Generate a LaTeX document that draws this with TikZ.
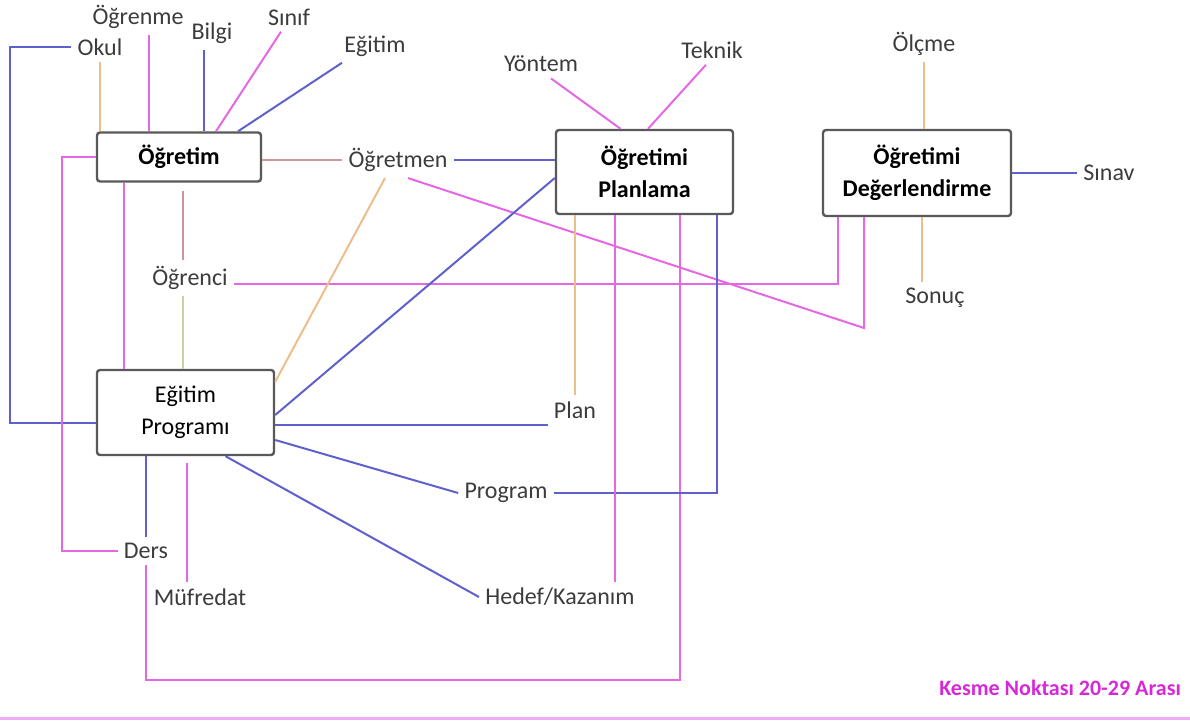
\documentclass[tikz,border=0pt]{standalone}
\usepackage{fontspec}
\setmainfont{Carlito}
\usepackage{tikz}
\usetikzlibrary{calc}
\definecolor{lnblue}{RGB}{96,96,204}
\definecolor{lnpink}{RGB}{228,104,228}
\definecolor{lntan}{RGB}{236,190,140}
\definecolor{lnrose}{RGB}{206,150,150}
\definecolor{lngreen}{RGB}{198,210,170}
\definecolor{txtgray}{RGB}{60,60,60}
\definecolor{kesmemag}{RGB}{214,40,214}
\tikzset{
  konu/.style={draw=black!65, line width=1.2pt, rounded corners=1.5pt, fill=white,
       align=center, font=\fontsize{12}{16}\selectfont, inner sep=2pt},
  kavram/.style={font=\fontsize{12}{14}\selectfont, text=txtgray, inner sep=3pt},
  mavi/.style={draw=lnblue, line width=1pt},
  pembe/.style={draw=lnpink, line width=1pt},
  ten/.style={draw=lntan, line width=1pt},
  gul/.style={draw=lnrose, line width=1pt},
  yesil/.style={draw=lngreen, line width=1pt}
}
\begin{document}
\begin{tikzpicture}[x=0.5pt, y=-0.5pt]
\useasboundingbox (0,0) rectangle (1190,722);

\node[konu, minimum width=82pt, minimum height=24.5pt] (ogretim) at (179,157) {\textbf{Öğretim}};
\node[konu, minimum width=88.5pt, minimum height=42.5pt] (ep) at (185.5,412.5) {Eğitim\\Programı};
\node[konu, minimum width=88.5pt, minimum height=42pt] (planlama) at (644.5,172) {\textbf{Öğretimi}\\\textbf{Planlama}};
\node[konu, minimum width=94pt, minimum height=43pt] (deg) at (917,173) {\textbf{Öğretimi}\\\textbf{Değerlendirme}};

\node[kavram] (okul) at (100,47) {Okul};
\node[kavram] (ogrenme) at (138,17) {Öğrenme};
\node[kavram] (bilgi) at (212,33) {Bilgi};
\node[kavram] (sinif) at (289,17) {Sınıf};
\node[kavram] (egitim) at (375,46) {Eğitim};
\node[kavram] (ogretmen) at (398,160) {Öğretmen};
\node[kavram] (ogrenci) at (190,278) {Öğrenci};
\node[kavram] (yontem) at (541,64) {Yöntem};
\node[kavram] (teknik) at (712,50) {Teknik};
\node[kavram] (olcme) at (924,44) {Ölçme};
\node[kavram] (sinav) at (1109,173) {Sınav};
\node[kavram] (sonuc) at (935,298) {Sonuç};
\node[kavram] (plan) at (575,410) {Plan};
\node[kavram] (program) at (506,493) {Program};
\node[kavram] (ders) at (146,551) {Ders};
\node[kavram] (mufredat) at (200,597) {Müfredat};
\node[kavram] (hedef) at (560,597) {Hedef/Kazanım};
\node[font=\fontsize{11}{13}\selectfont\bfseries, text=kesmemag, anchor=east] (kesme) at (1188,688) {Kesme Noktası 20-29 Arası};

\coordinate (okulkose) at (10,47);
\coordinate (derskose) at (62,157);
\coordinate (dongu) at (680,680);
\coordinate (ogrkose) at (864,328);

\draw[mavi] (okul.west) -- (okulkose) |- ([yshift=-5.25pt]ep.west);
\draw[ten] (okul.south) -- (okul.south |- ogretim.north);
\draw[pembe] ([xshift=5.5pt]ogrenme.south) coordinate (c1) -- (c1 |- ogretim.north);
\draw[mavi] ([xshift=-4pt]bilgi.south) coordinate (c2) -- (c2 |- ogretim.north);
\draw[pembe] ([xshift=-4pt]sinif.south) -- ([xshift=18.5pt]ogretim.north);
\draw[mavi] ([xshift=-16.5pt]egitim.south) -- ([xshift=29.5pt]ogretim.north);
\draw[gul] ([yshift=-1.5pt]ogretim.east) coordinate (c0) -- (c0 -| ogretmen.west);
\draw[mavi] (ogretmen.east) -- (ogretmen.east -| planlama.west);
\draw[pembe] ([xshift=5pt]ogretmen.south) -- (ogrkose) -- (ogrkose |- deg.south);
\draw[pembe] ([yshift=-3pt]ogrenci.east) -| ([xshift=-39.5pt]deg.south);
\draw[gul, shorten >=4pt] ([xshift=-3.5pt]ogrenci.north) coordinate (c3) -- (c3 |- ogretim.south);
\draw[yesil] ([xshift=-3.5pt]ogrenci.south) coordinate (c4) -- (c4 |- ep.north);
\draw[pembe] ([xshift=-27.5pt]ogretim.south) coordinate (c5) -- (c5 |- ep.north);
\draw[pembe] (ogretim.west) -- (derskose) |- (ders.west);
\draw[mavi] (ders.north) -- (ders.north |- ep.south);
\draw[pembe] (ders.south) |- (dongu) -- (dongu |- planlama.south);
\draw[pembe, shorten >=3.5pt] ([xshift=-6.5pt]mufredat.north) coordinate (c6) -- (c6 |- ep.south);
\draw[ten] ([xshift=-6.5pt]ogretmen.south) -- ([yshift=-6.5pt]ep.north east);
\draw[mavi] ([yshift=-1.25pt]ep.east) -- ([yshift=-3pt]planlama.west);
\draw[mavi] ([yshift=-6.25pt]ep.east) coordinate (c7) -- (c7 -| plan.west);
\draw[mavi] ([yshift=-13.75pt]ep.east) -- (program.west);
\draw[mavi] ([xshift=20pt]ep.south) -- (hedef.west);
\draw[mavi] (program.east) -| ([xshift=36pt]planlama.south);
\draw[ten] (plan.north) -- (plan.north |- planlama.south);
\draw[pembe] ([xshift=27.5pt]hedef.north) coordinate (c8) -- (c8 |- planlama.south);
\draw[pembe] ([xshift=5pt]yontem.south) -- ([xshift=-12pt]planlama.north);
\draw[pembe] ([xshift=-3pt]teknik.south) -- ([xshift=1.75pt]planlama.north);
\draw[ten] (olcme.south) -- (olcme.south |- deg.north);
\draw[ten] ([xshift=-6.5pt]sonuc.north) coordinate (c9) -- (c9 |- deg.south);
\draw[mavi] (deg.east) -- (sinav.west);

\draw[line width=1.5pt, lnpink!55] (0,718) -- (1190,718);
\end{tikzpicture}
\end{document}
